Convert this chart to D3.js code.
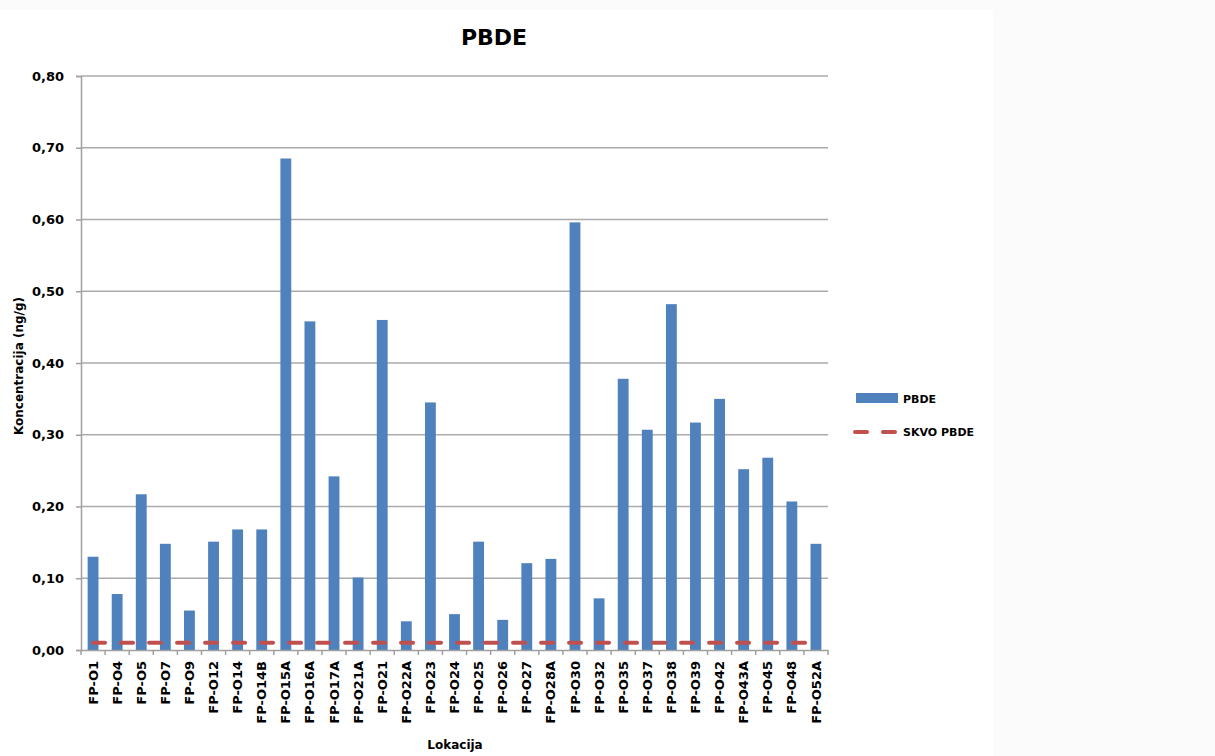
<!DOCTYPE html>
<html>
<head>
<meta charset="utf-8">
<script src="https://cdn.jsdelivr.net/npm/d3@7"></script>
<style>
  body { margin: 0; background: #fbfbfb; }
  svg { display: block; }
  text { font-family: "DejaVu Sans", sans-serif; font-weight: bold; fill: #000; }
</style>
</head>
<body>
<div id="chart"></div>
<script>
// categories (sampling locations)
const locations = ["FP-O1", "FP-O4", "FP-O5", "FP-O7", "FP-O9", "FP-O12", "FP-O14", "FP-O14B",
  "FP-O15A", "FP-O16A", "FP-O17A", "FP-O21A", "FP-O21", "FP-O22A", "FP-O23", "FP-O24",
  "FP-O25", "FP-O26", "FP-O27", "FP-O28A", "FP-O30", "FP-O32", "FP-O35", "FP-O37",
  "FP-O38", "FP-O39", "FP-O42", "FP-O43A", "FP-O45", "FP-O48", "FP-O52A"];
// PBDE concentration (ng/g)
const pbde = [0.130, 0.078, 0.217, 0.148, 0.055, 0.151, 0.168, 0.168,
  0.685, 0.458, 0.242, 0.101, 0.460, 0.040, 0.345, 0.050,
  0.151, 0.042, 0.121, 0.127, 0.596, 0.072, 0.378, 0.307,
  0.482, 0.317, 0.350, 0.252, 0.268, 0.207, 0.148];
// SKVO PBDE limit value
const skvo = locations.map(() => 0.01);
const yTicks = [0, 0.1, 0.2, 0.3, 0.4, 0.5, 0.6, 0.7, 0.8];

const width = 1215;
const height = 756;
const margin = {top: 76, right: 387, bottom: 106, left: 81};

const fmt = v => v.toFixed(2).replace(".", ",");

const svg = d3.select("#chart").append("svg")
  .attr("width", width)
  .attr("height", height);

// white chart area
svg.append("rect")
  .attr("x", 0).attr("y", 10)
  .attr("width", 993).attr("height", height - 10)
  .attr("fill", "#fff");

const xScale = d3.scaleBand()
  .domain(locations)
  .range([margin.left, width - margin.right]);

const yScale = d3.scaleLinear()
  .domain([0, 0.8])
  .range([height - margin.bottom, margin.top]);

// gridlines
svg.append("g")
  .selectAll("line")
  .data(yTicks.slice(1))
  .join("line")
    .attr("x1", margin.left)
    .attr("x2", width - margin.right)
    .attr("y1", d => yScale(d))
    .attr("y2", d => yScale(d))
    .attr("stroke", "#ababab")
    .attr("stroke-width", 1.5);

// y axis
const yAxis = svg.append("g")
  .attr("transform", `translate(${margin.left},0)`)
  .call(d3.axisLeft(yScale).tickValues(yTicks).tickFormat(fmt).tickSize(5).tickPadding(12));
yAxis.select(".domain").attr("stroke", "#a0a0a0").attr("stroke-width", 1.5);
yAxis.selectAll(".tick line").attr("stroke", "#a0a0a0").attr("stroke-width", 1.5);
yAxis.selectAll(".tick text")
  .attr("font-size", 13)
  .attr("font-family", "DejaVu Sans")
  .attr("font-weight", "bold");

// bars
const barW = xScale.bandwidth() * 0.45;
svg.append("g")
  .selectAll("rect")
  .data(pbde)
  .join("rect")
    .attr("x", (d, i) => xScale(locations[i]) + (xScale.bandwidth() - barW) / 2)
    .attr("y", d => yScale(d))
    .attr("width", barW)
    .attr("height", d => yScale(0) - yScale(d))
    .attr("fill", "#4f81bd");

// x axis
const xAxis = svg.append("g")
  .attr("transform", `translate(0,${height - margin.bottom})`)
  .call(d3.axisBottom(xScale).tickSize(0));
xAxis.select(".domain").attr("stroke", "#a0a0a0").attr("stroke-width", 1.5);
xAxis.selectAll(".tick text")
  .attr("font-size", 13)
  .attr("font-family", "DejaVu Sans")
  .attr("font-weight", "bold")
  .attr("text-anchor", "end")
  .attr("transform", "rotate(-90)")
  .attr("x", -11)
  .attr("y", 0)
  .attr("dy", "0.35em");

// tick marks at category boundaries
svg.append("g")
  .selectAll("line")
  .data(locations.concat([null]))
  .join("line")
    .attr("x1", (d, i) => margin.left + i * xScale.step())
    .attr("x2", (d, i) => margin.left + i * xScale.step())
    .attr("y1", yScale(0))
    .attr("y2", yScale(0) + 5)
    .attr("stroke", "#a0a0a0")
    .attr("stroke-width", 1.5);

// SKVO dashed line
const line = d3.line()
  .x((d, i) => xScale(locations[i]) + xScale.bandwidth() / 2)
  .y(d => yScale(d));
svg.append("path")
  .attr("d", line(skvo))
  .attr("fill", "none")
  .attr("stroke", "#c0504d")
  .attr("stroke-width", 4)
  .attr("stroke-linecap", "round")
  .attr("stroke-dasharray", "12,16");

// title
svg.append("text")
  .attr("x", 494)
  .attr("y", 45)
  .attr("text-anchor", "middle")
  .attr("font-size", 22)
  .text("PBDE");

// axis titles
svg.append("text")
  .attr("transform", "translate(23,366) rotate(-90)")
  .attr("text-anchor", "middle")
  .attr("font-size", 12)
  .text("Koncentracija (ng/g)");

svg.append("text")
  .attr("x", 455)
  .attr("y", 749)
  .attr("text-anchor", "middle")
  .attr("font-size", 12)
  .text("Lokacija");

// legend
const legend = svg.append("g");
legend.append("rect")
  .attr("x", 856).attr("y", 393)
  .attr("width", 42).attr("height", 10)
  .attr("fill", "#4f81bd");
legend.append("text")
  .attr("x", 903).attr("y", 403)
  .attr("font-size", 11)
  .text("PBDE");
legend.append("line")
  .attr("x1", 855).attr("x2", 897)
  .attr("y1", 432).attr("y2", 432)
  .attr("stroke", "#c0504d")
  .attr("stroke-width", 4)
  .attr("stroke-linecap", "round")
  .attr("stroke-dasharray", "12,16");
legend.append("text")
  .attr("x", 903).attr("y", 436)
  .attr("font-size", 11)
  .text("SKVO PBDE");
</script>
</body>
</html>
